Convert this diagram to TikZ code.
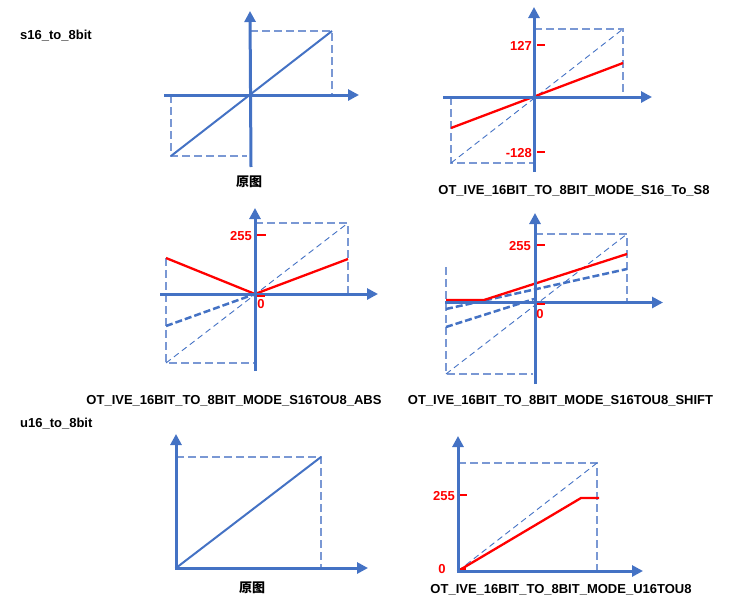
\documentclass[tikz,border=0pt]{standalone}
\usepackage{fontspec}
\setmainfont{Liberation Sans}
\newfontfamily\cjkfont{Noto Sans CJK SC}
\usetikzlibrary{arrows.meta}
\definecolor{axblue}{RGB}{68,114,196}
\definecolor{boxblue}{RGB}{122,152,212}
\definecolor{redl}{RGB}{255,0,0}
\tikzset{
  axis/.style={draw=axblue, line width=3pt, -{Triangle[length=11pt,width=11pt]}},
  boxd/.style={draw=boxblue, line width=1.4pt, dash pattern=on 8pt off 4pt},
  thind/.style={draw=axblue, line width=0.9pt, dash pattern=on 6pt off 4pt},
  thickd/.style={draw=axblue, line width=2.5pt, dash pattern=on 7pt off 3pt},
  diag/.style={draw=axblue, line width=2pt},
  redline/.style={draw=redl, line width=2.3pt},
  redtick/.style={draw=redl, line width=2pt},
  lbl/.style={font=\fontsize{13}{15}\selectfont\bfseries, inner sep=0pt, yshift=-1.8pt},
  redlbl/.style={lbl, text=redl},
  cjk/.style={font=\fontsize{13}{15}\selectfont\cjkfont\bfseries, inner sep=0pt, yshift=-1pt},
}
\begin{document}
\begin{tikzpicture}[x=1pt,y=-1pt]
\useasboundingbox (0,0) rectangle (741,605);
% section titles
\node[lbl, anchor=west] (t1) at (20,34) {s16\_to\_8bit};
\node[lbl, anchor=west] (t2) at (20,422) {u16\_to\_8bit};

% ---------- Panel 1 ----------
\coordinate (a1b) at (251,167);
\coordinate (a1t) at (250,11);
\coordinate (a1l) at (164,95);
\coordinate (a1r) at (359,95);
\coordinate (a1p) at (332,31);
\coordinate (a1n) at (171,156);
\draw[boxd] (250,31) -- (a1p) -- (332,95);
\draw[boxd] (171,95) -- (a1n) -- (247,156);
\draw[diag] (a1n) -- (a1p);
\draw[axis] (a1l) -- (a1r);
\draw[axis] (a1b) -- (a1t);
\node[cjk] (c1) at (249,181) {原图};

% ---------- Panel 2 ----------
\coordinate (a2b) at (534,172);
\coordinate (a2t) at (534,7);
\coordinate (a2l) at (443,97);
\coordinate (a2r) at (652,97);
\coordinate (a2p) at (623,29);
\coordinate (a2n) at (451,163);
\draw[boxd] (534,29) -- (a2p) -- (623,97);
\draw[boxd] (451,97) -- (a2n) -- (534,163);
\draw[thind] (a2n) -- (a2p);
\draw[redline] (451,128) -- (623,63);
\draw[axis] (a2l) -- (a2r);
\draw[axis] (a2b) -- (a2t);
\draw[redtick] (537,44.5) -- (545,44.5);
\draw[redtick] (537,152) -- (545,152);
\node[redlbl, anchor=east, yshift=1pt] (l127) at (532,45) {127};
\node[redlbl, anchor=east, yshift=1pt] (l128) at (532,152) {-128};
\node[lbl] (c2) at (574,189) {OT\_IVE\_16BIT\_TO\_8BIT\_MODE\_S16\_To\_S8};

% ---------- Panel 3 ----------
\coordinate (a3b) at (255,371);
\coordinate (a3t) at (255,208);
\coordinate (a3l) at (160,294);
\coordinate (a3r) at (378,294);
\coordinate (a3o) at (255,294);
\coordinate (a3p) at (348,223);
\coordinate (a3n) at (166,363);
\draw[boxd] (255,223) -- (a3p) -- (348,294);
\draw[boxd] (166,258) -- (a3n) -- (255,363);
\draw[thind] (a3n) -- (a3p);
\draw[thickd] (166,326) -- (a3o);
\draw[redline] (166,258) -- (a3o) -- (348,259);
\draw[axis] (a3l) -- (a3r);
\draw[axis] (a3b) -- (a3t);
\draw[redtick] (257,234.5) -- (266,234.5);
\draw[redtick] (257,295.5) -- (265,295.5);
\node[redlbl, anchor=east, yshift=1pt] (l255a) at (252,235) {255};
\node[redlbl, yshift=1pt] (l0a) at (261,303) {0};
\node[lbl] (c3) at (234,399) {OT\_IVE\_16BIT\_TO\_8BIT\_MODE\_S16TOU8\_ABS};

% ---------- Panel 4 ----------
\coordinate (a4b) at (535,384);
\coordinate (a4t) at (535,213);
\coordinate (a4l) at (445,302.5);
\coordinate (a4r) at (663,302.5);
\coordinate (a4p) at (627,234);
\coordinate (a4n) at (446,374);
\draw[boxd] (535,234) -- (a4p) -- (627,302);
\draw[boxd] (446,267) -- (a4n) -- (533,374);
\draw[thind] (a4n) -- (a4p);
\draw[thickd] (446,309) -- (627,269);
\draw[thickd] (446,327) -- (534,299);
\draw[redline] (446,300) -- (484,300) -- (627,254);
\draw[axis] (a4l) -- (a4r);
\draw[axis] (a4b) -- (a4t);
\draw[redtick] (537,245) -- (545,245);
\draw[redtick] (537,304) -- (545,304);
\node[redlbl, anchor=east, yshift=1pt] (l255b) at (531,245) {255};
\node[redlbl, yshift=1pt] (l0b) at (540,313) {0};
\node[lbl] (c4) at (560.5,399) {OT\_IVE\_16BIT\_TO\_8BIT\_MODE\_S16TOU8\_SHIFT};

% ---------- Panel 5 ----------
\coordinate (a5o) at (176,568);
\coordinate (a5t) at (176,434);
\coordinate (a5r) at (368,568);
\coordinate (a5p) at (321,457);
\draw[boxd] (176,457) -- (a5p) -- (321,568);
\draw[diag] (a5o) -- (a5p);
\draw[axis] ([yshift=1.5pt]a5o) -- (a5t);
\draw[axis] ([xshift=-1.5pt]a5o) -- (a5r);
\node[cjk] (c5) at (252,587) {原图};

% ---------- Panel 6 ----------
\coordinate (a6o) at (458,571);
\coordinate (a6t) at (458,436);
\coordinate (a6r) at (643,571);
\coordinate (a6p) at (597,463);
\draw[boxd] (458,463) -- (a6p) -- (597,571);
\draw[thind] (a6o) -- (a6p);
\draw[redline] (a6o) -- (581,498) -- (599,498);
\draw[axis] ([yshift=1.5pt]a6o) -- (a6t);
\draw[axis] ([xshift=-1.5pt]a6o) -- (a6r);
\draw[redtick] (460,569) -- (466,569);
\draw[redtick] (460,494.5) -- (467,494.5);
\node[redlbl, anchor=east, yshift=1pt] (l255c) at (455,495) {255};
\node[redlbl, yshift=1pt] (l0c) at (442,568) {0};
\node[lbl] (c6) at (561,588) {OT\_IVE\_16BIT\_TO\_8BIT\_MODE\_U16TOU8};
\end{tikzpicture}
\end{document}
